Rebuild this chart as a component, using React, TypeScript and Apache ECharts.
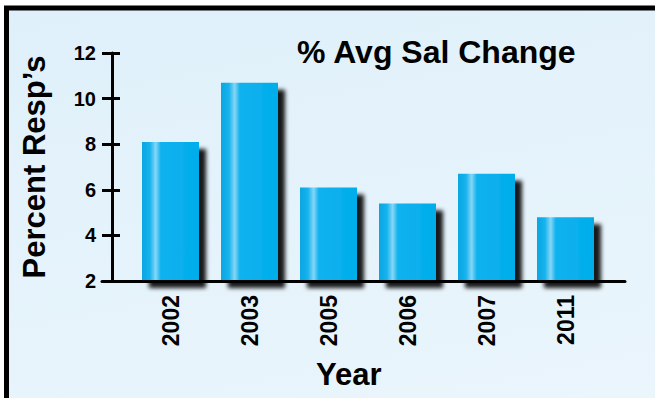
import React, { useEffect, useRef } from "react";
import * as echarts from "echarts";

// Survey data: average salary change per survey year
const years = ["2002", "2003", "2005", "2006", "2007", "2011"];
const avgSalChange = [8.1, 10.7, 6.1, 5.4, 6.7, 4.8];
const yMin = 2;
const yMax = 12;
const yStep = 2;

const FONT = "'Liberation Sans', Arial, Helvetica, sans-serif";

export default function App() {
  const ref = useRef<HTMLDivElement>(null);

  useEffect(() => {
    if (!ref.current) return;
    const chart = echarts.init(ref.current, undefined, { renderer: "svg" });

    const barFill = {
      type: "linear",
      x: 0,
      y: 0,
      x2: 1,
      y2: 0,
      colorStops: [
        { offset: 0, color: "#08a6e2" },
        { offset: 0.14, color: "#16b3ee" },
        { offset: 0.24, color: "#86d6f6" },
        { offset: 0.33, color: "#10b2ee" },
        { offset: 1, color: "#00adeb" },
      ],
    };

    chart.setOption({
      animation: false,
      backgroundColor: "#ffffff",
      graphic: [
        {
          type: "rect",
          z: -10,
          silent: true,
          shape: { x: 6.5, y: 8, width: 720, height: 460 },
          style: {
            fill: {
              type: "linear",
              x: 0,
              y: 0,
              x2: 0.3,
              y2: 1,
              colorStops: [
                { offset: 0, color: "#dff0fa" },
                { offset: 1, color: "#eaf5fc" },
              ],
            },
            stroke: "#000000",
            lineWidth: 5,
          },
        },
      ],
      title: [
        {
          text: "% Avg Sal Change",
          left: 292,
          top: 31,
          textStyle: { fontFamily: FONT, fontWeight: "bold", fontSize: 32, color: "#000" },
        },
        {
          text: "Year",
          left: 311,
          top: 354,
          textStyle: { fontFamily: FONT, fontWeight: "bold", fontSize: 31, color: "#000" },
        },
      ],
      grid: [
        { left: 131, right: 50, top: 53, bottom: 117 },
        { left: 102, right: 30, top: 53, bottom: 117 },
      ],
      xAxis: [
        {
          type: "category",
          gridIndex: 0,
          data: years,
          axisLine: { show: false },
          axisTick: { show: false },
          axisLabel: {
            rotate: 90,
            margin: 14,
            fontFamily: FONT,
            fontWeight: "bold",
            fontSize: 23,
            color: "#000",
          },
        },
        {
          type: "value",
          gridIndex: 1,
          min: 0,
          max: 1,
          z: 5,
          axisLine: { show: true, lineStyle: { color: "#000", width: 3 } },
          axisTick: { show: false },
          axisLabel: { show: false },
          splitLine: { show: false },
        },
      ],
      yAxis: [
        {
          type: "value",
          gridIndex: 0,
          position: "left",
          min: yMin,
          max: yMax,
          interval: yStep,
          offset: 19,
          name: "Percent Resp\u2019s",
          nameLocation: "middle",
          nameRotate: 90,
          nameGap: 62,
          nameTextStyle: { fontFamily: FONT, fontWeight: "bold", fontSize: 31, color: "#000" },
          axisLine: { show: true, lineStyle: { color: "#000", width: 3 } },
          axisTick: { show: true, length: 10, lineStyle: { color: "#000", width: 3 } },
          axisLabel: {
            margin: 16,
            fontFamily: FONT,
            fontWeight: "bold",
            fontSize: 20,
            color: "#000",
          },
          splitLine: { show: false },
        },
        {
          type: "value",
          gridIndex: 0,
          position: "left",
          min: yMin,
          max: yMax,
          interval: yStep,
          offset: 19,
          axisLine: { show: false },
          axisTick: { show: true, inside: true, length: 8, lineStyle: { color: "#000", width: 3 } },
          axisLabel: { show: false },
          splitLine: { show: false },
        },
        {
          type: "value",
          gridIndex: 1,
          show: false,
        },
      ],
      series: [
        {
          type: "bar",
          xAxisIndex: 0,
          yAxisIndex: 0,
          data: avgSalChange,
          barWidth: 57,
          itemStyle: {
            color: barFill,
            shadowColor: "rgba(0,0,0,0.9)",
            shadowBlur: 4,
            shadowOffsetX: 7,
            shadowOffsetY: 7,
          },
        },
      ],
    });

    return () => chart.dispose();
  }, []);

  return (
    <div
      ref={ref}
      style={{ position: "fixed", left: 0, top: 0, width: 655, height: 398 }}
    />
  );
}
